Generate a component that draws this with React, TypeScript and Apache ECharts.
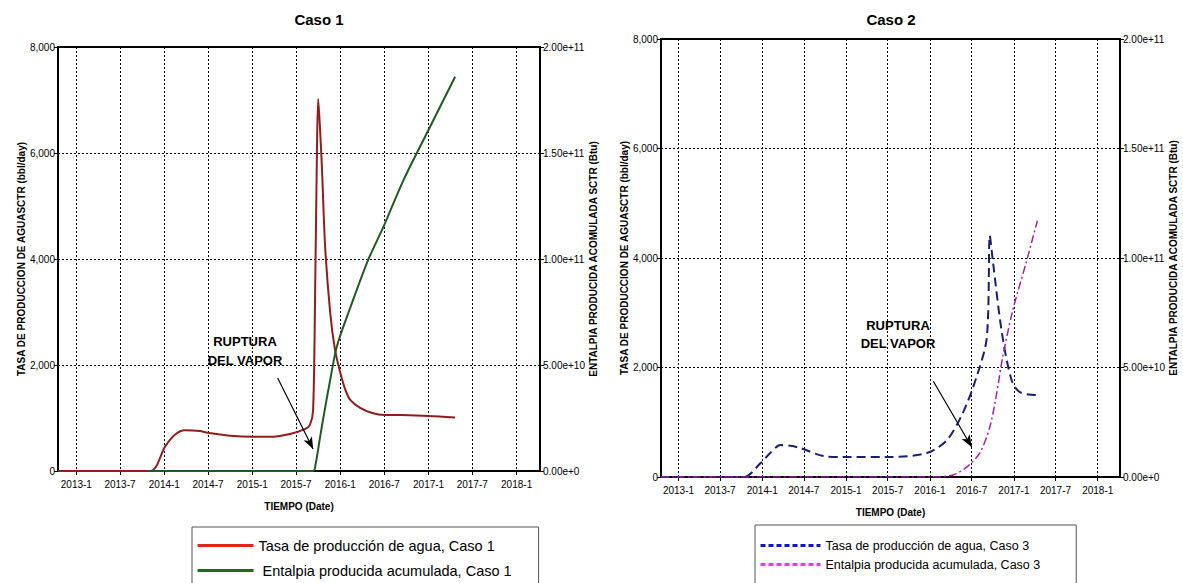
import React, { useEffect, useRef } from 'react';
import * as echarts from 'echarts';

// ---------- data ----------
const xTickLabels = ['2013-1', '2013-7', '2014-1', '2014-7', '2015-1', '2015-7', '2016-1', '2016-7', '2017-1', '2017-7', '2018-1'];
const xMin = '2012-10-17';
const xMax = '2018-04-08';

const titles = ['Caso 1', 'Caso 2'];
const rateAxisName = 'TASA DE PRODUCCION DE AGUASCTR (bbl/day)';
const enthalpyAxisName = 'ENTALPIA PRODUCIDA ACOMULADA SCTR (Btu)';
const timeAxisName = 'TIEMPO (Date)';

// Caso 1 — water rate (bbl/day)
const agua1Fechas = ['2012-10-17', '2013-11-03', '2014-01-05', '2014-02-15', '2014-03-27', '2014-05-28', '2014-07-01', '2014-10-01', '2015-01-01', '2015-03-14', '2015-06-06', '2015-08-07', '2015-08-28', '2015-09-10', '2015-09-18', '2015-09-26', '2015-10-01', '2015-10-09', '2015-10-17', '2015-10-30', '2015-11-20', '2015-12-10', '2016-01-01', '2016-01-22', '2016-02-11', '2016-03-23', '2016-05-12', '2016-07-01', '2016-09-06', '2017-01-01', '2017-04-21'];
const agua1Valores = [0, 0, 470, 690, 770, 755, 720, 665, 645, 645, 700, 790, 870, 1150, 3230, 6060, 7020, 6430, 5680, 4226, 2980, 2280, 1850, 1530, 1340, 1190, 1095, 1057, 1055, 1040, 1010];

// Caso 1 — cumulative enthalpy (Btu)
const entalpia1Fechas = ['2013-10-27', '2015-09-10', '2015-09-20', '2015-10-09', '2015-10-30', '2015-11-20', '2015-12-18', '2016-02-11', '2016-04-25', '2016-06-27', '2016-09-18', '2017-01-01', '2017-04-21'];
const entalpia1Valores = [0, 0, 0.3e10, 1.6e10, 3.0e10, 4.3e10, 5.9e10, 7.7e10, 9.95e10, 1.15e11, 1.37e11, 1.61e11, 1.86e11];

// Caso 2 (serie "Caso 3") — water rate (bbl/day)
const agua3Fechas = ['2012-10-17', '2013-10-12', '2013-12-25', '2014-02-08', '2014-03-21', '2014-05-04', '2014-06-16', '2014-09-24', '2014-12-20', '2015-06-28', '2015-12-19', '2016-03-15', '2016-05-23', '2016-07-22', '2016-09-05', '2016-09-18', '2016-10-01', '2016-11-10', '2016-12-22', '2017-01-27', '2017-04-13'];
const agua3Valores = [0, 0, 255, 450, 583, 570, 528, 383, 364, 364, 437, 674, 1166, 1822, 2551, 4410, 3954, 2624, 1768, 1549, 1494];

// Caso 2 (serie "Caso 3") — cumulative enthalpy (Btu)
const entalpia3Fechas = ['2012-10-17', '2016-01-01', '2016-04-10', '2016-06-10', '2016-08-05', '2016-09-18', '2016-10-18', '2016-11-13', '2016-12-27', '2017-02-26', '2017-04-13'];
const entalpia3Valores = [0, 0, 0.09e10, 0.46e10, 1.09e10, 2.28e10, 3.83e10, 5.47e10, 7.61e10, 9.89e10, 1.17e11];

const legend1 = ['Tasa de producción de agua, Caso 1', 'Entalpia producida acumulada, Caso 1'];
const legend2 = ['Tasa de producción de agua, Caso 3', 'Entalpia producida acumulada, Caso 3'];

// annotation arrows (data coordinates)
const arrow1 = { from: ['2015-04-16', 1755], to: ['2015-09-10', 415] };
const arrow2 = { from: ['2016-01-16', 1749], to: ['2016-07-01', 547] };
const annotationText = ['RUPTURA', 'DEL VAPOR'];

// ---------- helpers ----------
const ts = (s: string) => {
  const p = s.split('-').map(Number);
  return Date.UTC(p[0], (p[1] || 1) - 1, p[2] || 1);
};
const zip = (d: string[], v: number[]) => d.map((x, i) => [ts(x), v[i]]);
const tickVals = xTickLabels.map(ts);
const fmtDate = (v: number) => {
  const d = new Date(v);
  return `${d.getUTCFullYear()}-${d.getUTCMonth() + 1}`;
};
const fmtComma = (v: number) => String(v).replace(/\B(?=(\d{3})+(?!\d))/g, ',');
const fmtExp = (v: number) => (v === 0 ? '0.00e+0' : v.toExponential(2));

const NARROW = '"Liberation Sans Narrow", "Liberation Sans", Arial, sans-serif';
const SANS = '"Liberation Sans", Arial, sans-serif';

const dotted = { type: [2, 2], color: '#000', width: 1 };

function mkX(gridIndex: number) {
  return {
    type: 'value',
    gridIndex,
    min: ts(xMin),
    max: ts(xMax),
    name: timeAxisName,
    nameLocation: 'middle',
    nameGap: 30,
    nameTextStyle: { fontWeight: 'bold', fontSize: 10, color: '#000', fontFamily: NARROW },
    axisLine: { show: true, onZero: false, lineStyle: { color: '#000', width: 2 } },
    axisTick: { show: true, customValues: tickVals, length: 4, lineStyle: { color: '#000' } },
    axisLabel: { customValues: tickVals, formatter: fmtDate, fontSize: 10, color: '#000', fontFamily: NARROW, margin: 8 },
    splitLine: { show: true, lineStyle: dotted },
  };
}

function mkYLeft(gridIndex: number, gap: number) {
  return {
    type: 'value',
    gridIndex,
    position: 'left',
    min: 0,
    max: 8000,
    interval: 2000,
    name: rateAxisName,
    nameLocation: 'middle',
    nameRotate: 90,
    nameGap: gap,
    nameTextStyle: { fontWeight: 'bold', fontSize: 10, color: '#000', fontFamily: SANS },
    axisLine: { show: true, lineStyle: { color: '#000', width: 2 } },
    axisTick: { show: true, length: 4, lineStyle: { color: '#000' } },
    axisLabel: { formatter: fmtComma, fontSize: 10, color: '#000', fontFamily: NARROW, margin: 3 },
    splitLine: { show: true, lineStyle: dotted },
  };
}

function mkYRight(gridIndex: number, gap: number) {
  return {
    type: 'value',
    gridIndex,
    position: 'right',
    min: 0,
    max: 2e11,
    interval: 5e10,
    name: enthalpyAxisName,
    nameLocation: 'middle',
    nameRotate: 90,
    nameGap: gap,
    nameTextStyle: { fontWeight: 'bold', fontSize: 10, color: '#000', fontFamily: SANS },
    axisLine: { show: true, lineStyle: { color: '#000', width: 2 } },
    axisTick: { show: true, length: 4, lineStyle: { color: '#000' } },
    axisLabel: { formatter: fmtExp, fontSize: 10, color: '#000', fontFamily: NARROW, margin: 3 },
    splitLine: { show: false },
  };
}

function arrowMarkLine(a: { from: any[]; to: any[] }) {
  return {
    silent: true,
    symbol: ['none', 'arrow'],
    symbolSize: [7, 12],
    label: { show: false },
    lineStyle: { color: '#000', width: 1.2, type: 'solid' },
    data: [[{ coord: [ts(a.from[0]), a.from[1]] }, { coord: [ts(a.to[0]), a.to[1]] }]],
  };
}

function mkLegend(
  names: string[], colors: string[], dashed: boolean, left: number, top: number,
  itemWidth: number, itemHeight: number, itemGap: number, fontSize: number,
  padding: number[], indentSecond: boolean,
) {
  return {
    orient: 'vertical',
    left,
    top,
    height: 120,
    padding,
    itemWidth,
    itemHeight,
    itemGap,
    borderColor: '#555',
    borderWidth: 1,
    backgroundColor: '#fff',
    textStyle: { fontSize, color: '#000', fontFamily: SANS },
    formatter: (n: string) => (indentSecond && n === names[1] ? ' ' + n : n),
    data: names.map((n, i) => ({
      name: n,
      lineStyle: { color: colors[i], width: 3, type: dashed ? [5, 3] : 'solid' },
      itemStyle: { color: 'rgba(0,0,0,0)', borderWidth: 0, opacity: 0 },
    })),
  };
}

function annotation(cx: number, y1: number, y2: number) {
  const st = (t: string) => ({
    text: t,
    fontSize: 13,
    fontWeight: 'bold',
    fontFamily: NARROW,
    fill: '#000',
    align: 'center',
    verticalAlign: 'middle',
    textAlign: 'center',
    textVerticalAlign: 'middle',
  });
  return [
    { type: 'text', x: cx, y: y1, style: st(annotationText[0]) },
    { type: 'text', x: cx, y: y2, style: st(annotationText[1]) },
  ];
}

export default function App() {
  const ref = useRef<HTMLDivElement>(null);
  useEffect(() => {
    if (!ref.current) return;
    const chart = echarts.init(ref.current, undefined, { renderer: 'svg' });
    const smooth = { smooth: 0.3 };
    const option: any = {
      animation: false,
      backgroundColor: '#fff',
      title: [
        { text: titles[0], left: 314, top: 7, textAlign: 'center', textStyle: { fontSize: 15, fontWeight: 'bold', color: '#000', fontFamily: SANS } },
        { text: titles[1], left: 886, top: 7, textAlign: 'center', textStyle: { fontSize: 15, fontWeight: 'bold', color: '#000', fontFamily: SANS } },
      ],
      grid: [
        { left: 58, top: 47, width: 482, height: 424, show: true, borderColor: '#000', borderWidth: 2, containLabel: false },
        { left: 661, top: 39, width: 459, height: 438, show: true, borderColor: '#000', borderWidth: 2, containLabel: false },
      ],
      xAxis: [mkX(0), mkX(1)],
      yAxis: [mkYLeft(0, 31), mkYRight(0, 48), mkYLeft(1, 28), mkYRight(1, 44)],
      legend: [
        mkLegend(legend1, ['#e8231c', '#1e6a1e'], false, 192, 527, 56, 14, 10, 14.5, [11, 27, 30, 4], true),
        mkLegend(legend2, ['#1414d0', '#ff2bff'], true, 755, 525, 60, 12, 6, 12.5, [14, 36, 30, 4], false),
      ],
      graphic: [...annotation(245, 341, 360), ...annotation(898, 325, 343)],
      series: [
        {
          name: legend1[0], type: 'line', xAxisIndex: 0, yAxisIndex: 0, symbol: 'none', ...smooth,
          data: zip(agua1Fechas, agua1Valores), color: '#921d1d',
          lineStyle: { width: 2, color: '#921d1d' },
          markLine: arrowMarkLine(arrow1),
        },
        {
          name: legend1[1], type: 'line', xAxisIndex: 0, yAxisIndex: 1, symbol: 'none', ...smooth,
          data: zip(entalpia1Fechas, entalpia1Valores), color: '#1f5b1f',
          lineStyle: { width: 2, color: '#1f5b1f' },
        },
        {
          name: legend2[0], type: 'line', xAxisIndex: 1, yAxisIndex: 2, symbol: 'none', ...smooth,
          data: zip(agua3Fechas, agua3Valores), color: '#1c1f70',
          lineStyle: { width: 2, color: '#1c1f70', type: [9, 5] },
          markLine: arrowMarkLine(arrow2),
        },
        {
          name: legend2[1], type: 'line', xAxisIndex: 1, yAxisIndex: 3, symbol: 'none', ...smooth,
          data: zip(entalpia3Fechas, entalpia3Valores), color: '#a323a8',
          lineStyle: { width: 1.5, color: '#a323a8', type: [8, 3, 2, 3] },
        },
      ],
    };
    chart.setOption(option);
    return () => chart.dispose();
  }, []);
  return <div ref={ref} style={{ position: 'fixed', left: 0, top: 0, width: 1183, height: 583 }} />;
}
